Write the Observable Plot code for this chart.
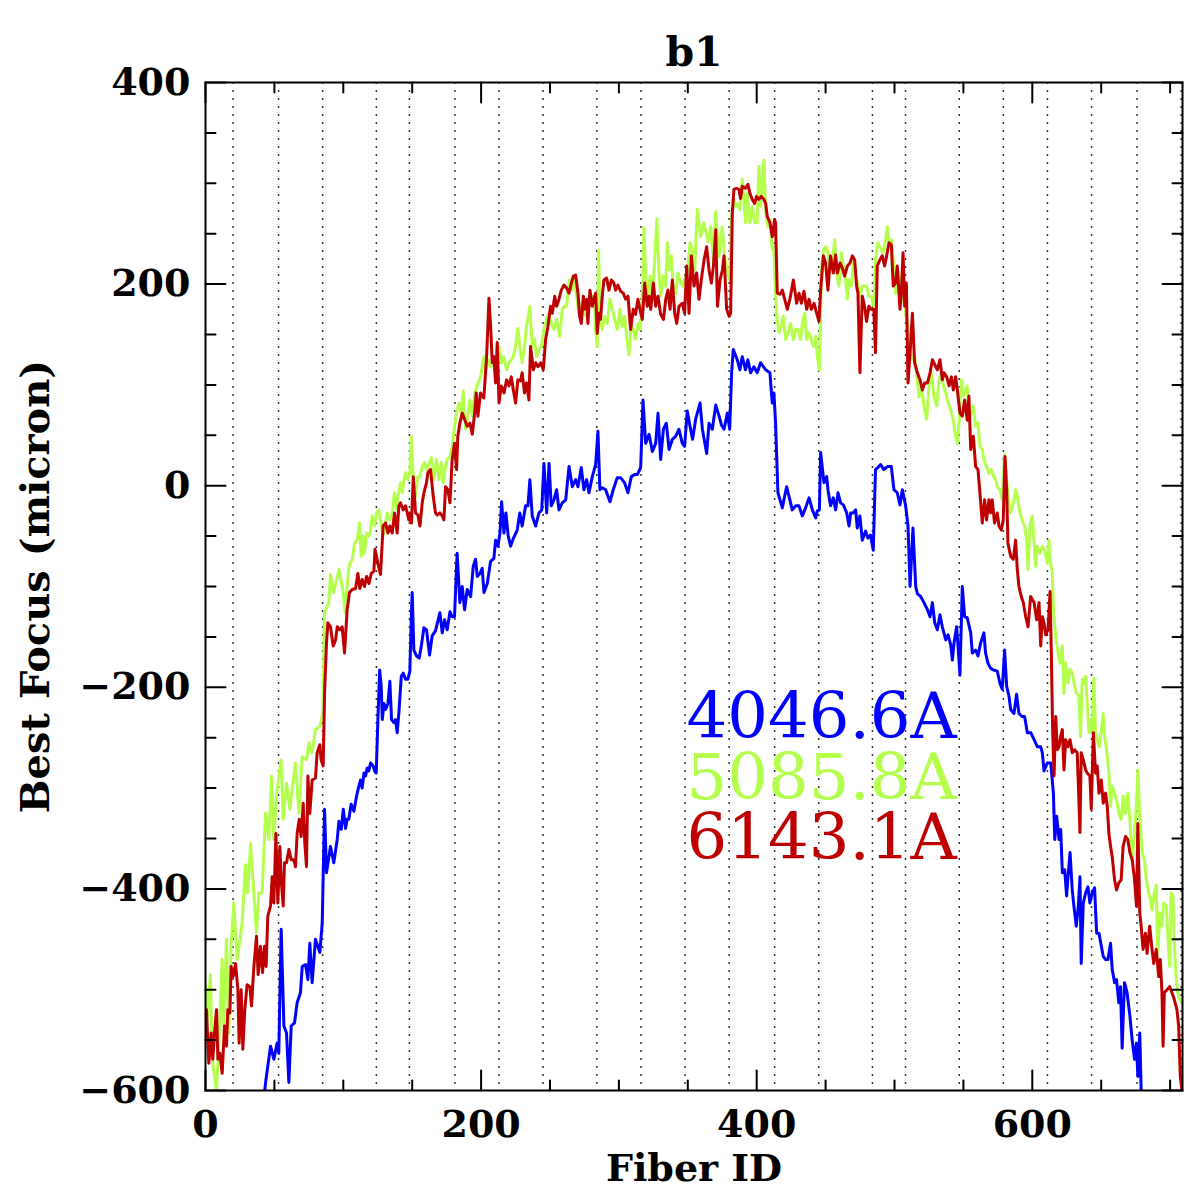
<!DOCTYPE html>
<html><head><meta charset="utf-8">
<script src="https://cdn.jsdelivr.net/npm/d3@7"></script>
<script src="https://cdn.jsdelivr.net/npm/@observablehq/plot@0.6"></script>
<style>body{margin:0;background:#fff}</style>
</head><body><div id="chart"></div>
<script>
const title = "b1";
const xLabel = "Fiber ID";
const yLabel = "Best Focus (micron)";
const xDomain = [0, 709];
const yDomain = [-600, 400];
const xMajor = [0, 200, 400, 600];
const xMinor = [50, 100, 150, 250, 300, 350, 450, 500, 550, 650, 700];
const yMajor = [-600, -400, -200, 0, 200, 400];
const yMinor = [-550, -500, -450, -350, -300, -250, -150, -100, -50, 50, 100, 150, 250, 300, 350];
const blockEdges = [20, 53, 85, 124, 148, 181, 213, 245, 284, 316, 348, 380, 413, 445, 484, 508, 547, 579, 611, 643, 676, 708];
const lineNames = ["4046.6A", "5085.8A", "6143.1A"];
const lineColors = ["#0000ff", "#b4ff4c", "#bf0000"];

const bluePts = [[40,-640],[43.6,-592],[47.2,-556],[49.6,-569],[52,-553],[53.2,-563],[54.9,-440],[56.9,-536],[58.8,-543],[60.5,-592],[62.2,-536],[64.6,-533],[66.5,-513],[68.9,-503],[70.2,-477],[72.6,-475],[74.3,-490],[75.7,-454],[77.4,-493],[79.8,-450],[83,-463],[84.7,-434],[86.4,-321],[87.8,-384],[90.7,-358],[93.1,-374],[95.6,-351],[96.8,-333],[98.5,-341],[100,-321],[101.6,-340],[102.8,-331],[104,-331],[105.7,-316],[107.7,-323],[109.6,-308],[111.3,-298],[112.5,-292],[113.7,-300],[115,-285],[116.2,-288],[117.3,-280],[118.5,-283],[119.8,-275],[121.7,-278],[122.7,-283],[123.9,-285],[125.1,-232],[126.4,-183],[127.5,-199],[128.3,-232],[129.5,-216],[130.7,-222],[132.4,-216],[133.8,-194],[135,-232],[136.7,-235],[137.9,-232],[139.1,-245],[140.3,-226],[142.1,-189],[143.5,-186],[145.2,-192],[146.9,-192],[148.3,-184],[149.3,-133],[150,-106],[151.2,-163],[153.2,-169],[155.1,-171],[156.6,-159],[158.5,-141],[160.4,-143],[162.6,-168],[164.5,-149],[166.9,-144],[170.1,-126],[171.8,-146],[173.5,-133],[175.4,-143],[177.4,-125],[179,-130],[180.7,-130],[182.6,-67],[184.6,-116],[186.3,-100],[188,-123],[189.9,-103],[192.4,-110],[194.3,-80],[196,-73],[197.2,-90],[199.2,-87],[200.8,-82],[202.1,-106],[204.5,-97],[206.9,-75],[209.3,-72],[210.5,-54],[212.2,-60],[213.7,-47],[214.9,-16],[216.6,-47],[218,-27],[219.7,-50],[221.4,-60],[223.5,-52],[226.2,-44],[228.1,-27],[229.8,-40],[232.3,-20],[234,-20],[235.4,6],[237.1,-30],[239.6,-40],[242,-27],[244,-24],[245.6,22],[247.6,-27],[249.3,22],[250.9,-20],[252.9,-14],[254.8,-4],[256.5,-24],[258.9,-17],[261.4,-14],[263.8,19],[266.2,-1],[268.6,6],[270.3,-1],[272.7,18],[274.6,-4],[276.6,6],[278.3,-7],[280.7,9],[283.1,21],[284.8,54],[286.2,-4],[287.9,-2],[290.4,-4],[293.5,-16],[295.9,-4],[298.8,8],[301.2,8],[304.1,3],[306.6,-7],[309,9],[311.4,11],[313.4,11],[315.8,18],[317.5,85],[319.4,42],[321.9,51],[324.3,34],[326.7,42],[328.4,72],[330.3,26],[332.3,56],[334.4,62],[336.4,36],[338.8,46],[341.2,49],[343.6,56],[346,42],[347.7,39],[349.6,74],[351.6,59],[353.5,46],[355.7,66],[358.9,82],[360.6,56],[363.7,32],[365.4,62],[367.8,56],[370.3,80],[372.7,69],[374.5,60],[376.3,56],[378.7,72],[380.4,56],[381.8,112],[383,135],[385.9,125],[387.8,115],[389.5,128],[391.9,115],[393.6,125],[395.6,112],[398,118],[400.4,112],[402.8,122],[406.5,115],[409.6,112],[411.3,82],[412.5,92],[413.7,62],[415.4,-7],[418.6,-22],[421.7,-1],[424.6,-17],[425.8,-24],[428.3,-20],[430.7,-20],[433.1,-30],[435.5,-22],[438,-12],[440.4,-24],[442.8,-32],[444,-25],[445.5,-24],[446.4,33],[448.8,3],[450.8,9],[451.7,-4],[453.6,-20],[455.6,-12],[457.3,-24],[459,-7],[460.9,-17],[462.9,-19],[465.3,-27],[467,-40],[468.2,-27],[470.1,-27],[471.8,-24],[473,-42],[474.9,-30],[476.6,-54],[479,-45],[480.7,-52],[482.6,-49],[484.6,-64],[486.2,16],[487.9,18],[489.9,21],[492.3,16],[494.8,19],[497.7,19],[499.6,-4],[502,-7],[504,-19],[505.7,-4],[508.1,-20],[509.8,-40],[511.3,-100],[513.4,-42],[515.4,-100],[516.6,-107],[519,-110],[521.4,-116],[523.9,-123],[525.8,-130],[527.5,-116],[529.2,-136],[531.1,-143],[533,-128],[534.7,-140],[537.2,-153],[538.9,-148],[540.8,-158],[542,-173],[543.2,-156],[545.1,-140],[546.1,-159],[547.5,-188],[549.2,-100],[550.9,-130],[552.8,-131],[555.3,-146],[556.5,-166],[558.9,-163],[560.6,-169],[562.5,-156],[564.9,-146],[566.1,-166],[567.8,-176],[569.7,-181],[572.1,-183],[574.6,-184],[576.5,-196],[578.2,-202],[579.9,-163],[581.4,-199],[583.1,-209],[584.3,-222],[586.7,-226],[588.6,-207],[590.3,-226],[592.7,-229],[594.4,-229],[596.4,-245],[598.9,-245],[601.3,-252],[603.7,-259],[606.1,-259],[607.3,-265],[608.5,-283],[610.9,-275],[613.4,-275],[615.3,-305],[616.3,-351],[617.7,-328],[619.4,-351],[620.6,-341],[621.8,-384],[623.5,-381],[624.9,-407],[625.9,-388],[627.4,-364],[629,-401],[630.2,-417],[631.9,-437],[633.4,-417],[634.6,-388],[635.5,-474],[637,-414],[638.7,-404],[640.4,-398],[641.8,-414],[643.5,-404],[645.2,-399],[646.7,-444],[648.4,-444],[650.1,-457],[651.5,-467],[653.2,-470],[654.9,-470],[656.8,-454],[658,-480],[659.7,-493],[661.1,-490],[662.8,-513],[664,-497],[665.2,-558],[666.9,-493],[668.8,-503],[670.8,-526],[672.5,-550],[674.2,-569],[675.6,-553],[676.6,-586],[678,-543],[679,-600],[681,-640]];

const greenPts = [[0,-495],[1.2,-530],[3.6,-485],[4.8,-569],[8,-600],[9.7,-553],[12.1,-470],[13.3,-536],[15.2,-450],[16.9,-543],[18.6,-454],[20.6,-414],[23,-470],[26.6,-434],[29,-376],[30.7,-404],[32.7,-355],[35.1,-404],[37,-444],[38.7,-404],[41.1,-404],[43.6,-325],[46,-351],[47.9,-288],[49.6,-351],[51.6,-305],[54.9,-272],[56.4,-331],[58.8,-295],[61.2,-321],[65.3,-275],[67.8,-325],[70.2,-269],[73.3,-272],[75,-255],[77.4,-265],[79.8,-242],[83,-239],[85.2,-225],[86.4,-126],[89.5,-116],[90.7,-88],[93.1,-106],[96.8,-83],[99.9,-106],[101.4,-126],[102.8,-100],[104.1,-80],[106.5,-73],[108.2,-57],[110.1,-54],[111.8,-37],[113,-70],[114.4,-50],[115.4,-67],[116.9,-47],[118.6,-50],[119.8,-44],[121,-30],[122.7,-40],[124.1,-27],[125.8,-24],[127.5,-37],[128.9,-50],[130.7,-37],[131.9,-27],[133.8,-34],[135.5,-27],[137.2,-7],[138.6,-24],[139.6,-11],[141.5,3],[142.8,-7],[144,6],[145.2,13],[146.9,6],[148.3,13],[149.3,49],[150.8,6],[152.4,-11],[154.1,9],[155.6,9],[157.3,19],[159,23],[160.4,16],[162.1,21],[163.8,28],[165.7,6],[167.7,26],[169.4,6],[171.1,23],[172.5,3],[174.2,19],[175.4,26],[177.4,29],[179,39],[180.7,59],[182.2,72],[183.9,82],[185.6,72],[187.1,94],[188.7,56],[190.4,69],[191.9,85],[193.6,69],[195.3,92],[197.2,99],[199.6,108],[202,128],[203.6,115],[205.3,125],[206.9,118],[208.6,125],[210.5,112],[213,138],[214.6,122],[216.6,128],[218.5,115],[220.2,122],[221.9,125],[223.4,128],[225,138],[226.7,156],[228.1,138],[229.8,122],[231.5,138],[233,158],[235.4,178],[237.1,138],[238.8,145],[240.3,128],[242,135],[243.7,138],[245.6,155],[247.6,165],[249.3,171],[250.9,161],[252.9,155],[254.8,165],[257,148],[258.9,175],[260.6,178],[262.1,178],[263.8,204],[265.5,194],[267.4,208],[269.3,188],[271,171],[272.7,181],[274.6,171],[276.6,168],[278.3,178],[280,188],[281.9,188],[283.1,155],[284.3,138],[285.3,233],[286.2,165],[287.9,155],[289.6,168],[291.6,161],[293.5,185],[295.2,175],[296.9,165],[298.8,155],[300.8,175],[302.4,158],[304.1,168],[305.6,148],[307.3,130],[309,161],[310.4,155],[312.1,145],[313.8,161],[315.3,155],[317,188],[318.2,256],[319.4,208],[321.1,188],[322.6,208],[324.3,185],[325.5,214],[327.6,265],[329.1,211],[330.3,188],[332.3,208],[334,198],[335.2,241],[336.4,214],[338.1,228],[339.5,194],[341.2,191],[342.9,211],[344.8,201],[346.3,198],[347.7,204],[349.6,211],[351.6,241],[353.3,234],[355,214],[356.9,274],[359.3,247],[361.7,261],[364.6,242],[366.6,257],[368.5,224],[370.2,272],[372.6,227],[375,257],[376.7,228],[378.7,211],[380.4,204],[381.8,267],[383.5,284],[384.7,277],[386.4,280],[387.8,274],[389.5,304],[390.7,284],[391.9,261],[393.2,290],[395.1,261],[396.8,277],[398.5,261],[400.4,261],[401.6,317],[402.8,277],[404,304],[405.3,323],[406.5,271],[408.2,257],[409.6,264],[411.3,234],[412.5,237],[413.7,191],[414.9,165],[416.2,152],[417.9,158],[419.3,168],[421,145],[422.7,152],[424.6,161],[426.6,145],[428.3,155],[430,155],[431.9,145],[433.1,161],[434.8,171],[436.3,145],[438,152],[439.6,145],[441.1,138],[442.8,148],[444,128],[445.5,115],[446.9,211],[448.4,234],[450,237],[451.7,231],[453.2,211],[454.9,221],[456.6,244],[458,211],[459.7,198],[461.4,231],[462.9,218],[464.6,204],[465.8,185],[467,204],[468.7,198],[470.1,221],[471.8,211],[473.5,198],[474.9,188],[476.6,198],[478.3,198],[479.7,198],[481.4,188],[483.1,188],[485,178],[486.2,224],[487.9,241],[489.4,237],[491.8,231],[493.5,244],[494.8,257],[496,241],[497.7,244],[499.1,224],[500.8,191],[502.5,214],[504.5,201],[506.4,188],[508.1,171],[509.8,158],[511.3,132],[513,125],[514.6,128],[516.6,105],[517.8,88],[519.5,99],[521.4,79],[523.4,66],[525,99],[526.7,112],[528.6,89],[530.6,79],[532.3,105],[534,112],[535.5,99],[537.2,92],[538.9,82],[540.8,75],[542.7,65],[544.4,49],[545.6,42],[547,65],[548.5,105],[549.9,89],[551.6,95],[552.8,99],[554,65],[555.7,72],[557.2,79],[558.9,59],[560.6,62],[562,39],[563.7,36],[564.9,26],[566.8,19],[568.5,12],[570.2,16],[572.1,9],[573.4,6],[574.6,-1],[576.5,-4],[578.2,-14],[579.9,31],[581.4,6],[583.1,-17],[584.3,-27],[586.2,-17],[587.9,-4],[589.1,-10],[591,-27],[592.7,-34],[594.4,-40],[595.9,-54],[596.9,-83],[598.3,-40],[600,-30],[601.2,-54],[602.4,-80],[603.6,-60],[605.6,-67],[607.3,-60],[609,-64],[610.9,-77],[612.1,-54],[612.9,-73],[614.5,-87],[615.3,-123],[617,-150],[618.7,-166],[620.1,-176],[621.8,-159],[623,-206],[624.2,-176],[625.9,-196],[627.4,-182],[629,-186],[630.7,-199],[632.1,-206],[633.8,-209],[635,-249],[636.2,-192],[637.5,-196],[638.7,-189],[639.9,-216],[641.1,-245],[642.3,-232],[643.5,-245],[644.7,-191],[645.9,-245],[647.1,-252],[648.4,-259],[649.6,-249],[651.5,-226],[652.5,-249],[653.9,-262],[655.6,-285],[656.8,-318],[658,-298],[659.7,-305],[661.1,-311],[662.8,-325],[664.5,-331],[665.9,-308],[667.6,-325],[669.3,-305],[670.8,-331],[672.5,-371],[674.2,-345],[675.6,-315],[676.6,-282],[678,-328],[679.7,-364],[681.4,-371],[682.8,-391],[684.5,-404],[685.7,-411],[686.9,-421],[688.6,-404],[690,-396],[691,-464],[692.5,-424],[694.1,-437],[695.3,-414],[697.3,-417],[698.2,-444],[699.7,-477],[700.7,-404],[702.1,-406],[703.1,-454],[704.5,-490],[705.5,-503],[706.9,-510],[708.6,-513]];

const redPts = [[0.7,-520],[2.4,-573],[4.1,-543],[5.3,-569],[6.5,-543],[8,-520],[9,-569],[10.4,-563],[12.1,-583],[13.8,-536],[15.2,-556],[16.2,-520],[17.7,-523],[18.6,-477],[20.1,-487],[21.8,-474],[23.5,-500],[24.4,-553],[25.9,-500],[27.1,-559],[28.5,-520],[30.2,-495],[32.2,-497],[33.4,-516],[35.1,-477],[37,-447],[38.2,-485],[39.9,-457],[41.4,-483],[42.8,-457],[44,-477],[45.2,-427],[47.2,-417],[48.4,-388],[49.6,-414],[51.1,-345],[52.5,-414],[54,-358],[54.9,-391],[56.4,-417],[57.3,-374],[58.8,-374],[60.5,-361],[62.2,-371],[64.1,-371],[65.3,-378],[66.5,-345],[68,-331],[69.4,-348],[70.9,-315],[72.1,-355],[73.3,-378],[74.3,-288],[75.7,-325],[77.4,-292],[79.8,-290],[81,-265],[83,-257],[83.9,-272],[85.4,-278],[86.4,-206],[87.8,-156],[88.8,-136],[90.7,-140],[92.7,-159],[94.4,-153],[95.6,-140],[97.5,-143],[99.2,-140],[100.9,-166],[102.8,-123],[104.5,-106],[106.5,-103],[108.9,-102],[110.6,-87],[112,-102],[113.7,-93],[115.4,-100],[116.9,-90],[118.6,-97],[120.3,-87],[122.2,-85],[123,-63],[125.1,-77],[127,-88],[128.9,-40],[130.7,-37],[132.4,-47],[133.8,-40],[135.5,-47],[137.2,-27],[139.1,-47],[140.3,-20],[141.5,-17],[143.5,-24],[145.2,-20],[146.4,-27],[147.6,-34],[148.3,-27],[149.5,-37],[150.8,9],[152.4,-27],[154.1,-29],[155.6,-40],[157.3,-17],[158.5,-7],[160.4,3],[161.4,13],[163.3,16],[165.3,-11],[166.9,-27],[168.1,-29],[170.1,-27],[171.8,-30],[173,-34],[174.2,-1],[175.9,-4],[177.4,-17],[179,26],[180.7,42],[182.2,16],[183.1,49],[184.6,62],[186.3,72],[188,66],[189.9,59],[191.9,62],[193.6,51],[195.3,72],[196.5,92],[197.7,69],[199.6,92],[202,87],[204,128],[205.7,186],[206.9,158],[208.1,122],[209.3,128],[210.5,102],[211.7,142],[213,82],[214.6,99],[216.6,92],[218.5,105],[220.2,99],[221.9,108],[223.4,95],[225,82],[226.7,105],[228.6,104],[229.8,112],[231.5,92],[233,102],[234.7,85],[235.9,138],[237.9,115],[239.6,122],[241.3,118],[243.2,122],[245.1,115],[246.8,145],[248.5,158],[250.4,178],[251.7,171],[253.4,188],[254.8,178],[256.5,185],[258.2,194],[260.1,199],[262.1,196],[263.8,191],[265.5,201],[266.9,208],[268.6,209],[270.3,191],[271.5,168],[272.7,161],[274.2,188],[275.1,175],[276.6,185],[277.5,161],[279,194],[280.7,178],[281.9,185],[283.1,191],[284.3,151],[285.5,171],[286.7,165],[287.9,188],[289.1,204],[291.1,206],[292.8,194],[294.5,204],[296.4,201],[297.6,194],[299.3,199],[301.2,193],[303.2,191],[304.9,185],[306.6,188],[308.5,155],[310.4,175],[312.1,170],[313.8,185],[315.3,175],[317,165],[318.7,201],[320.6,178],[321.9,188],[323.1,175],[325,201],[326.7,178],[328.4,188],[330.3,170],[332.3,165],[334,185],[335.6,194],[337.1,175],[338.8,204],[340.5,171],[342,161],[343.6,178],[346,181],[347.7,171],[349.2,218],[350.9,171],[352.6,228],[354.5,198],[356.4,211],[358.1,185],[359.8,204],[361.8,224],[363.7,237],[365.4,214],[367.1,201],[368.6,218],[370.3,254],[371.5,178],[373.4,204],[375.1,214],[376.3,228],[378.2,175],[380,168],[381.1,171],[382.3,271],[383.5,294],[385.4,295],[387.1,294],[388.3,285],[389.5,297],[391.9,295],[393.6,299],[395.1,290],[396.8,284],[398.5,280],[399.9,287],[401.6,284],[403.3,287],[405.3,284],[406.5,280],[407.7,267],[409.6,261],[411.3,247],[413,264],[413.7,261],[414.9,191],[416.9,190],[418.6,194],[420.3,185],[422.2,175],[424.1,185],[426.6,204],[429,181],[430.7,191],[432.4,181],[434.3,193],[436.3,175],[438,185],[439.6,175],[441.6,181],[443.5,171],[445.2,163],[446.4,194],[448.4,228],[450,221],[451.7,194],[453.6,228],[455.6,211],[457.3,229],[458.5,211],[460.5,221],[462.1,216],[463.8,208],[465.8,218],[467.7,221],[469.4,228],[471.1,224],[472.5,198],[473.5,191],[474.9,112],[476.6,188],[478.3,178],[479.7,163],[481.4,178],[483.1,175],[485,175],[486.2,132],[487.5,218],[489.4,224],[491.1,228],[492.8,218],[494.3,228],[496,241],[497.7,239],[499.1,198],[500.8,201],[502,218],[504,175],[505,191],[506.2,231],[507.4,178],[508.6,201],[509.8,102],[511.3,132],[513,171],[514.6,122],[516.6,112],[518.5,105],[520.2,95],[521.9,102],[523.9,102],[525.8,112],[527.5,125],[529.2,120],[531.1,115],[533,125],[534.7,105],[535.9,112],[537.9,108],[539.6,99],[541.3,108],[542.7,95],[544.4,108],[546.1,89],[547.5,72],[549.2,69],[550.9,85],[552.8,65],[554,89],[555.3,36],[557.2,49],[558.9,19],[560.6,16],[562,-7],[563.7,-37],[565.4,-14],[566.8,-34],[568.5,-14],[569.7,-27],[570.9,-14],[572.6,-37],[574.6,-27],[575.8,-40],[577.5,-44],[578.9,-34],[580.2,29],[581.4,-4],[582.3,-57],[584.3,-70],[586.2,-73],[587.9,-54],[589.1,-83],[590.3,-100],[592,-110],[593.5,-116],[595.2,-130],[596.9,-140],[598.8,-110],[601.3,-116],[603.2,-133],[604.9,-116],[606.1,-159],[607.3,-130],[608.5,-136],[609.7,-148],[611.4,-143],[612.9,-105],[613.9,-173],[614.8,-245],[615.8,-288],[617,-229],[618.2,-262],[619.4,-259],[620.6,-249],[621.8,-242],[623,-282],[624.2,-252],[625.9,-259],[627.4,-252],[629,-265],[630.7,-262],[632.6,-265],[634.6,-344],[635.5,-265],[637,-272],[638.7,-282],[639.9,-285],[641.8,-288],[642.8,-321],[644.3,-245],[645.9,-285],[647.1,-278],[648.4,-305],[650.1,-292],[651.5,-315],[653.2,-305],[654.4,-318],[655.6,-345],[656.8,-358],[658,-368],[659.7,-391],[661.1,-401],[662.8,-394],[664.5,-391],[665.9,-358],[667.6,-348],[669.3,-351],[670.8,-364],[672.5,-371],[674.2,-391],[675.6,-417],[676.6,-335],[678,-424],[679,-437],[680.4,-460],[682.1,-444],[683.3,-464],[685.2,-437],[686.9,-460],[688.1,-474],[690,-460],[691.7,-487],[692.9,-470],[694.1,-503],[694.9,-556],[695.8,-503],[697.8,-500],[699.7,-497],[701.4,-503],[703.1,-510],[705,-520],[706.2,-536],[707.4,-586],[708.6,-600]];

const legendDy = [655, 716, 776];

const toRows = (pts, name) => pts.map(([fiber, focus]) => ({fiber, focus, name}));
const rows = [
  ...toRows(bluePts, lineNames[0]),
  ...toRows(greenPts, lineNames[1]),
  ...toRows(redPts, lineNames[2])
];

// plain straight tick shape for vector marks (no arrowhead)
const tickShape = {draw(context, l) { context.moveTo(0, 0); context.lineTo(0, -l); }};
const tk = {stroke: "black", strokeWidth: 2, anchor: "start", shape: tickShape};
const ident = d => d;

const chart = Plot.plot({
  width: 1200,
  height: 1200,
  marginTop: 82,
  marginBottom: 110,
  marginLeft: 205,
  marginRight: 18,
  style: {fontFamily: "'DejaVu Serif', serif", fontWeight: "bold", fontSize: "38px", background: "white", color: "black"},
  x: {domain: xDomain},
  y: {domain: yDomain},
  color: {domain: lineNames, range: lineColors},
  marks: [
    Plot.ruleX(blockEdges, {x: ident, stroke: "#333", strokeWidth: 1.5, strokeDasharray: "2,6"}),
    Plot.line(rows, {x: "fiber", y: "focus", z: "name", stroke: "name", strokeWidth: 3, clip: true}),
    Plot.frame({stroke: "black", strokeWidth: 2}),
    Plot.vectorX(xMajor, {x: ident, frameAnchor: "bottom", length: 20, rotate: 0, ...tk}),
    Plot.vectorX(xMinor, {x: ident, frameAnchor: "bottom", length: 10, rotate: 0, ...tk}),
    Plot.vectorX(xMajor, {x: ident, frameAnchor: "top", length: 20, rotate: 180, ...tk}),
    Plot.vectorX(xMinor, {x: ident, frameAnchor: "top", length: 10, rotate: 180, ...tk}),
    Plot.vectorY(yMajor, {y: ident, frameAnchor: "left", length: 20, rotate: 90, ...tk}),
    Plot.vectorY(yMinor, {y: ident, frameAnchor: "left", length: 10, rotate: 90, ...tk}),
    Plot.vectorY(yMajor, {y: ident, frameAnchor: "right", length: 20, rotate: -90, ...tk}),
    Plot.vectorY(yMinor, {y: ident, frameAnchor: "right", length: 10, rotate: -90, ...tk}),
    Plot.axisX({ticks: xMajor, anchor: "bottom", tickSize: 0, tickPadding: 20, label: null, fontSize: 38, fontWeight: "bold"}),
    Plot.axisY({ticks: yMajor, anchor: "left", tickSize: 0, tickPadding: 15, label: null, fontSize: 38, fontWeight: "bold"}),
    Plot.text([title], {text: ident, frameAnchor: "top", dy: -17, lineAnchor: "bottom", fontSize: 41, fontWeight: "bold"}),
    Plot.text([xLabel], {text: ident, frameAnchor: "bottom", dy: 90, lineAnchor: "bottom", fontSize: 38, fontWeight: "bold"}),
    Plot.text([yLabel], {text: ident, frameAnchor: "left", dx: -157, rotate: -90, textAnchor: "middle", lineAnchor: "bottom", fontSize: 40, fontWeight: "bold"}),
    ...lineNames.map((n, i) => Plot.text([n], {text: ident, frameAnchor: "top-left", dx: 481, dy: legendDy[i], textAnchor: "start", lineAnchor: "bottom", fill: lineColors[i], fontSize: 64, fontWeight: "normal"}))
  ]
});
document.getElementById("chart").appendChild(chart);
</script>
</body></html>
